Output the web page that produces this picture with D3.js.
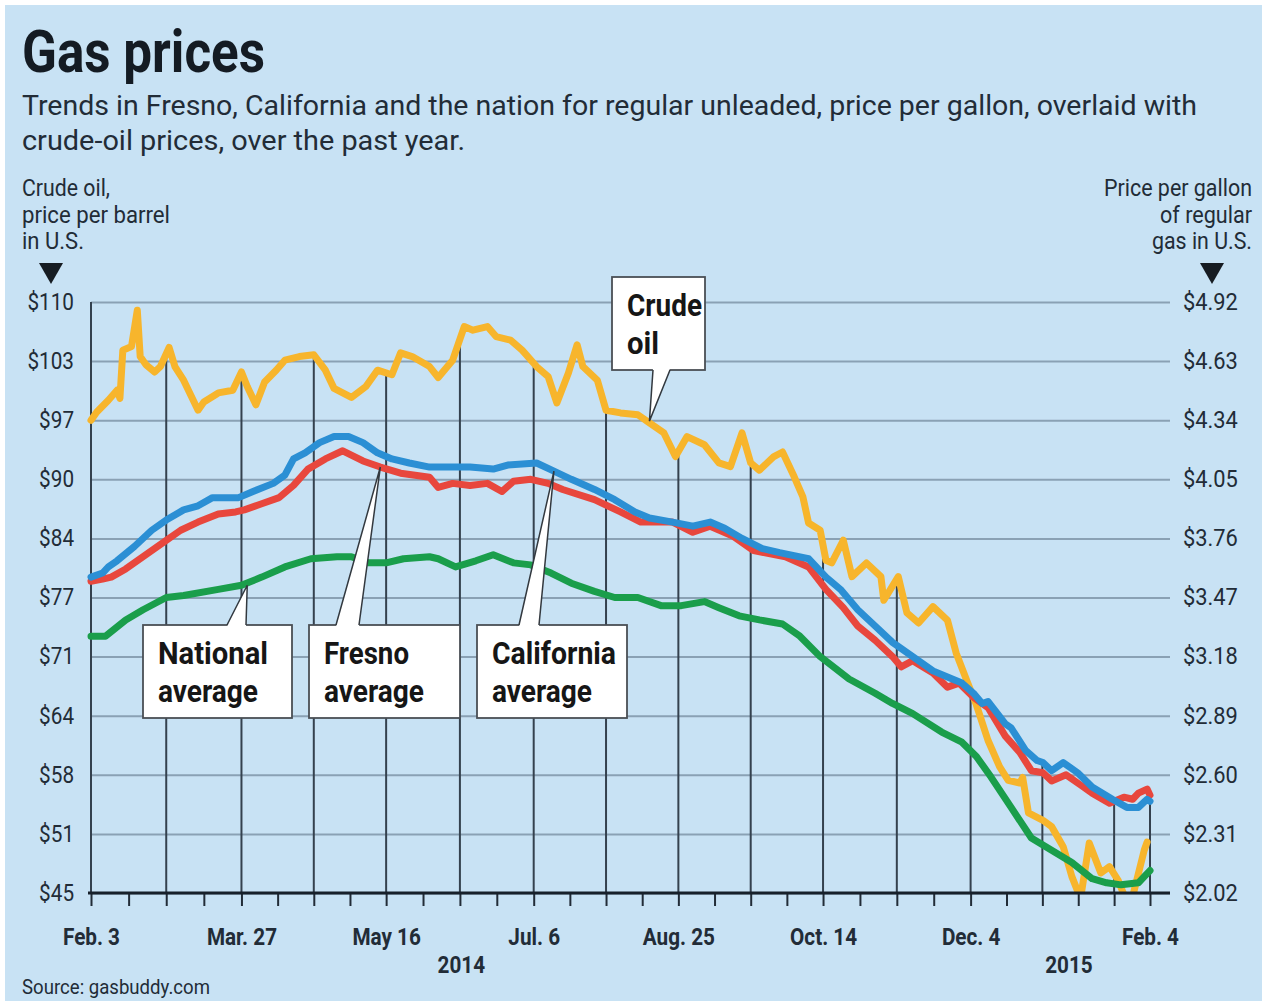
<!DOCTYPE html>
<html lang="en">
<head>
<meta charset="UTF-8">
<title>Gas prices</title>
<script src="https://d3js.org/d3.v7.min.js"></script>
<style>
    body { margin: 0; background: #fff; }
    svg { display: block; }
    text { font-family: Roboto, "Liberation Sans", Arial, sans-serif; fill: #222c37; }
    .title { font-size: 60px; font-weight: 700; fill: #141b23; }
    .subtitle { font-size: 28px; }
    .axis-title { font-size: 23px; }
    .tick text { font-size: 23px; fill: #222c37; }
    .xlab { font-size: 23px; font-weight: 700; }
    .callout text { font-size: 32px; font-weight: 700; fill: #161616; }
    .source { font-size: 21px; }
</style>
</head>
<body>
<svg id="chart"></svg>
<script>
    const crudeOil = [
        ["2014-02-03", 97.0], ["2014-02-05", 97.9], ["2014-02-09", 99.2], ["2014-02-12", 100.3], ["2014-02-13", 99.4],
        ["2014-02-14", 104.7], ["2014-02-17", 105.1], ["2014-02-19", 109.1], ["2014-02-20", 104.0], ["2014-02-22", 103.1],
        ["2014-02-25", 102.3], ["2014-02-27", 102.9], ["2014-03-02", 105.0], ["2014-03-04", 102.9], ["2014-03-07", 101.4],
        ["2014-03-12", 98.1], ["2014-03-14", 99.0], ["2014-03-19", 100.0], ["2014-03-24", 100.3], ["2014-03-27", 102.3],
        ["2014-03-29", 100.7], ["2014-04-01", 98.7], ["2014-04-04", 101.2], ["2014-04-08", 102.5], ["2014-04-11", 103.6],
        ["2014-04-16", 104.0], ["2014-04-21", 104.2], ["2014-04-25", 102.5], ["2014-04-28", 100.5], ["2014-05-04", 99.5],
        ["2014-05-09", 100.7], ["2014-05-13", 102.5], ["2014-05-18", 102.0], ["2014-05-21", 104.4], ["2014-05-25", 104.0],
        ["2014-05-31", 102.9], ["2014-06-03", 101.7], ["2014-06-08", 103.6], ["2014-06-12", 107.3], ["2014-06-15", 106.9],
        ["2014-06-20", 107.3], ["2014-06-23", 106.2], ["2014-06-28", 105.8], ["2014-07-02", 104.7], ["2014-07-07", 102.9],
        ["2014-07-11", 101.8], ["2014-07-14", 98.9], ["2014-07-18", 102.2], ["2014-07-21", 105.3], ["2014-07-23", 102.9],
        ["2014-07-28", 101.4], ["2014-07-31", 98.1], ["2014-08-05", 97.8], ["2014-08-11", 97.6], ["2014-08-15", 96.7],
        ["2014-08-20", 95.6], ["2014-08-24", 93.0], ["2014-08-28", 95.2], ["2014-09-03", 94.3], ["2014-09-08", 92.3],
        ["2014-09-12", 91.9], ["2014-09-16", 95.6], ["2014-09-19", 92.3], ["2014-09-22", 91.5], ["2014-09-27", 93.0],
        ["2014-09-30", 93.5], ["2014-10-04", 90.8], ["2014-10-07", 88.6], ["2014-10-09", 85.7], ["2014-10-13", 84.9],
        ["2014-10-15", 81.6], ["2014-10-17", 81.3], ["2014-10-21", 83.8], ["2014-10-24", 79.8], ["2014-10-29", 81.3],
        ["2014-11-03", 79.8], ["2014-11-04", 77.2], ["2014-11-09", 79.8], ["2014-11-12", 75.8], ["2014-11-16", 74.7],
        ["2014-11-21", 76.5], ["2014-11-26", 75.0], ["2014-11-29", 71.4], ["2014-12-03", 68.1], ["2014-12-06", 65.7],
        ["2014-12-10", 61.8], ["2014-12-14", 58.9], ["2014-12-17", 57.4], ["2014-12-21", 57.1], ["2014-12-22", 57.7],
        ["2014-12-24", 53.8], ["2014-12-29", 53.0], ["2015-01-01", 52.3], ["2015-01-05", 50.1], ["2015-01-08", 46.8],
        ["2015-01-11", 44.4], ["2015-01-14", 50.5], ["2015-01-18", 47.2], ["2015-01-21", 47.9], ["2015-01-24", 46.4],
        ["2015-01-26", 44.8], ["2015-01-29", 44.6], ["2015-02-02", 49.7], ["2015-02-03", 50.6]
    ];

    const californiaAvg = [
        ["2014-02-03", 3.57], ["2014-02-07", 3.59], ["2014-02-09", 3.62], ["2014-02-12", 3.65], ["2014-02-18", 3.72],
        ["2014-02-24", 3.80], ["2014-03-01", 3.85], ["2014-03-07", 3.90], ["2014-03-12", 3.92], ["2014-03-17", 3.96],
        ["2014-03-26", 3.96], ["2014-03-31", 3.99], ["2014-04-07", 4.03], ["2014-04-11", 4.07], ["2014-04-14", 4.15],
        ["2014-04-18", 4.18], ["2014-04-23", 4.23], ["2014-04-28", 4.26], ["2014-05-03", 4.26], ["2014-05-08", 4.23],
        ["2014-05-13", 4.18], ["2014-05-18", 4.15], ["2014-05-24", 4.13], ["2014-05-31", 4.11], ["2014-06-14", 4.11],
        ["2014-06-22", 4.10], ["2014-06-27", 4.12], ["2014-07-07", 4.13], ["2014-07-13", 4.09], ["2014-07-19", 4.05],
        ["2014-07-27", 4.00], ["2014-08-03", 3.95], ["2014-08-10", 3.89], ["2014-08-15", 3.86], ["2014-08-23", 3.84],
        ["2014-08-30", 3.82], ["2014-09-05", 3.84], ["2014-09-10", 3.81], ["2014-09-16", 3.76], ["2014-09-23", 3.71],
        ["2014-09-29", 3.69], ["2014-10-09", 3.66], ["2014-10-15", 3.57], ["2014-10-20", 3.51], ["2014-10-26", 3.41],
        ["2014-11-01", 3.33], ["2014-11-07", 3.25], ["2014-11-14", 3.18], ["2014-11-21", 3.11], ["2014-11-26", 3.08],
        ["2014-12-01", 3.05], ["2014-12-05", 3.00], ["2014-12-08", 2.95], ["2014-12-10", 2.96], ["2014-12-16", 2.85],
        ["2014-12-18", 2.83], ["2014-12-23", 2.72], ["2014-12-27", 2.67], ["2014-12-29", 2.66], ["2015-01-01", 2.62],
        ["2015-01-05", 2.66], ["2015-01-10", 2.61], ["2015-01-15", 2.54], ["2015-01-22", 2.48], ["2015-01-27", 2.44],
        ["2015-01-31", 2.44], ["2015-02-03", 2.48], ["2015-02-04", 2.47]
    ];

    const fresnoAvg = [
        ["2014-02-03", 3.55], ["2014-02-07", 3.56], ["2014-02-10", 3.57], ["2014-02-15", 3.61], ["2014-02-22", 3.68],
        ["2014-03-01", 3.75], ["2014-03-06", 3.80], ["2014-03-12", 3.84], ["2014-03-19", 3.88], ["2014-03-25", 3.89],
        ["2014-03-28", 3.90], ["2014-04-03", 3.93], ["2014-04-09", 3.96], ["2014-04-14", 4.02], ["2014-04-19", 4.10],
        ["2014-04-25", 4.15], ["2014-05-01", 4.19], ["2014-05-08", 4.14], ["2014-05-14", 4.11], ["2014-05-21", 4.08],
        ["2014-05-31", 4.06], ["2014-06-03", 4.01], ["2014-06-08", 4.03], ["2014-06-14", 4.02], ["2014-06-20", 4.03],
        ["2014-06-25", 3.99], ["2014-06-29", 4.04], ["2014-07-05", 4.05], ["2014-07-11", 4.03], ["2014-07-16", 4.00],
        ["2014-07-27", 3.95], ["2014-08-05", 3.89], ["2014-08-12", 3.84], ["2014-08-16", 3.84], ["2014-08-23", 3.84],
        ["2014-08-30", 3.79], ["2014-09-05", 3.82], ["2014-09-13", 3.77], ["2014-09-20", 3.70], ["2014-10-01", 3.67],
        ["2014-10-09", 3.62], ["2014-10-15", 3.51], ["2014-10-21", 3.42], ["2014-10-26", 3.33], ["2014-11-01", 3.26],
        ["2014-11-07", 3.18], ["2014-11-10", 3.13], ["2014-11-14", 3.16], ["2014-11-21", 3.10], ["2014-11-26", 3.03],
        ["2014-11-30", 3.05], ["2014-12-05", 2.98], ["2014-12-10", 2.93], ["2014-12-16", 2.79], ["2014-12-21", 2.71],
        ["2014-12-25", 2.62], ["2014-12-29", 2.61], ["2015-01-01", 2.57], ["2015-01-06", 2.60], ["2015-01-11", 2.55],
        ["2015-01-15", 2.51], ["2015-01-21", 2.46], ["2015-01-26", 2.49], ["2015-01-29", 2.48], ["2015-01-31", 2.51],
        ["2015-02-03", 2.53], ["2015-02-04", 2.50]
    ];

    const nationalAvg = [
        ["2014-02-03", 3.28], ["2014-02-08", 3.28], ["2014-02-15", 3.36], ["2014-02-21", 3.41], ["2014-03-01", 3.47],
        ["2014-03-07", 3.48], ["2014-03-19", 3.51], ["2014-03-27", 3.53], ["2014-04-03", 3.57], ["2014-04-11", 3.62],
        ["2014-04-20", 3.66], ["2014-04-29", 3.67], ["2014-05-04", 3.67], ["2014-05-10", 3.64], ["2014-05-16", 3.64],
        ["2014-05-22", 3.66], ["2014-05-31", 3.67], ["2014-06-03", 3.66], ["2014-06-09", 3.62], ["2014-06-16", 3.65],
        ["2014-06-22", 3.68], ["2014-06-29", 3.64], ["2014-07-05", 3.63], ["2014-07-12", 3.59], ["2014-07-19", 3.54],
        ["2014-07-27", 3.50], ["2014-08-03", 3.47], ["2014-08-11", 3.47], ["2014-08-19", 3.43], ["2014-08-26", 3.43],
        ["2014-09-03", 3.45], ["2014-09-08", 3.42], ["2014-09-15", 3.38], ["2014-09-22", 3.36], ["2014-09-30", 3.34],
        ["2014-10-06", 3.28], ["2014-10-13", 3.18], ["2014-10-23", 3.07], ["2014-11-01", 3.00], ["2014-11-07", 2.95],
        ["2014-11-14", 2.90], ["2014-11-24", 2.81], ["2014-12-01", 2.76], ["2014-12-06", 2.69], ["2014-12-11", 2.59],
        ["2014-12-18", 2.44], ["2014-12-25", 2.29], ["2015-01-01", 2.23], ["2015-01-08", 2.17], ["2015-01-15", 2.09],
        ["2015-01-20", 2.07], ["2015-01-25", 2.06], ["2015-01-31", 2.07], ["2015-02-02", 2.10], ["2015-02-04", 2.13]
    ];

    // axis ticks
    const oilTickValues = [45, 51.5, 58, 64.5, 71, 77.5, 84, 90.5, 97, 103.5, 110];
    const oilTickLabels = ["$45", "$51", "$58", "$64", "$71", "$77", "$84", "$90", "$97", "$103", "$110"];
    const gasTickValues = [2.02, 2.31, 2.60, 2.89, 3.18, 3.47, 3.76, 4.05, 4.34, 4.63, 4.92];
    const gasTickLabels = ["$2.02", "$2.31", "$2.60", "$2.89", "$3.18", "$3.47", "$3.76", "$4.05", "$4.34", "$4.63", "$4.92"];
    const dateTicks = ["2014-02-03", "2014-03-27", "2014-05-16", "2014-07-06", "2014-08-25", "2014-10-14", "2014-12-04", "2015-02-04"];
    const dateLabels = ["Feb. 3", "Mar. 27", "May 16", "Jul. 6", "Aug. 25", "Oct. 14", "Dec. 4", "Feb. 4"];
    const minorSteps = [4, 4, 4, 4, 4, 4, 5];
    const years = [["2014", "2014-06-11"], ["2015", "2015-01-07"]];

    // ---- layout ----
    const width = 1267, height = 1004;
    const plot = { left: 91, right: 1150, top: 302, bottom: 893, gridRight: 1170 };
    const colors = { oil: "#f7b52c", cal: "#2b8fd4", fresno: "#e8473d", nat: "#1a9e4b" };

    const parse = d3.timeParse("%Y-%m-%d");
    const toSeries = arr => arr.map(d => ({ date: parse(d[0]), v: d[1] }));
    const oilS = toSeries(crudeOil), calS = toSeries(californiaAvg),
          freS = toSeries(fresnoAvg), natS = toSeries(nationalAvg);

    const svg = d3.select("#chart").attr("width", width).attr("height", height);

    svg.append("rect").attr("x", 5).attr("y", 5).attr("width", width - 10).attr("height", height - 8)
        .attr("fill", "#c8e2f4");

    const x = d3.scaleTime().domain([parse(dateTicks[0]), parse(dateTicks[dateTicks.length - 1])])
        .range([plot.left, plot.right]);
    const yOil = d3.scaleLinear().domain([45, 110]).range([plot.bottom, plot.top]);
    const yGas = d3.scaleLinear().domain([2.02, 4.92]).range([plot.bottom, plot.top]);

    function fit(sel, w) { sel.attr("textLength", w).attr("lengthAdjust", "spacingAndGlyphs"); }
    function squeeze(sel, f) {
        sel.each(function () {
            const w = this.getComputedTextLength();
            d3.select(this).attr("textLength", w * f).attr("lengthAdjust", "spacingAndGlyphs");
        });
    }

    // ---- headings ----
    svg.append("text").attr("class", "title").attr("x", 22).attr("y", 72).text("Gas prices").call(fit, 243);
    svg.append("text").attr("class", "subtitle").attr("x", 22).attr("y", 115)
        .text("Trends in Fresno, California and the nation for regular unleaded, price per gallon, overlaid with")
        .call(fit, 1175);
    svg.append("text").attr("class", "subtitle").attr("x", 22).attr("y", 150)
        .text("crude-oil prices, over the past year.").call(fit, 443);

    const leftTitle = [["Crude oil,", 88], ["price per barrel", 148], ["in U.S.", 62]];
    leftTitle.forEach((t, i) => {
        svg.append("text").attr("class", "axis-title").attr("x", 22).attr("y", 196 + i * 26.5).text(t[0]).call(fit, t[1]);
    });
    const rightTitle = [["Price per gallon", 148], ["of regular", 92], ["gas in U.S.", 100]];
    rightTitle.forEach((t, i) => {
        svg.append("text").attr("class", "axis-title").attr("x", 1252).attr("y", 196 + i * 26.5)
            .attr("text-anchor", "end").text(t[0]).call(fit, t[1]);
    });
    svg.append("path").attr("d", "M39,263 L63,263 L51,284 Z").attr("fill", "#161c22");
    svg.append("path").attr("d", "M1200,263 L1224,263 L1212,284 Z").attr("fill", "#161c22");

    // ---- horizontal grid ----
    const hGrid = svg.append("g").attr("transform", `translate(${plot.left},0)`)
        .call(d3.axisRight(yOil).tickValues(oilTickValues).tickSize(plot.gridRight - plot.left).tickFormat(""));
    hGrid.select(".domain").remove();
    hGrid.selectAll("line").attr("stroke", "#8aa1b4").attr("stroke-width", 2);

    // ---- y axes ----
    const leftAxis = svg.append("g").attr("transform", `translate(${plot.left},0)`)
        .call(d3.axisLeft(yOil).tickValues(oilTickValues).tickSize(0).tickPadding(17)
            .tickFormat(d => oilTickLabels[oilTickValues.indexOf(d)]));
    leftAxis.select(".domain").remove();
    leftAxis.selectAll("text").call(squeeze, 0.9);

    const rightAxis = svg.append("g").attr("transform", `translate(${plot.right},0)`)
        .call(d3.axisRight(yGas).tickValues(gasTickValues).tickSize(0).tickPadding(33)
            .tickFormat(d => gasTickLabels[gasTickValues.indexOf(d)]));
    rightAxis.select(".domain").remove();
    rightAxis.selectAll("text").call(squeeze, 0.95);

    // ---- x ticks ----
    const ticks = [];
    dateTicks.slice(0, -1).forEach((ds, i) => {
        const a = parse(ds), b = parse(dateTicks[i + 1]), n = minorSteps[i];
        for (let k = 0; k < n; k++) {
            ticks.push({ date: new Date(+a + (b - a) * k / n), label: k === 0 ? dateLabels[i] : "" });
        }
    });
    ticks.push({ date: parse(dateTicks[dateTicks.length - 1]), label: dateLabels[dateLabels.length - 1] });
    ticks.forEach((t, i) => { t.major = i % 2 === 0 || i === ticks.length - 1; });

    const bisect = d3.bisector(d => d.date).left;
    function valueAt(s, date) {
        const i = bisect(s, date);
        if (i <= 0) return s[0].v;
        if (i >= s.length) return s[s.length - 1].v;
        const a = s[i - 1], b = s[i];
        return a.v + (b.v - a.v) * (date - a.date) / (b.date - a.date);
    }
    function topAt(date) {
        return Math.min(yOil(valueAt(oilS, date)), yGas(valueAt(calS, date)),
            yGas(valueAt(freS, date)), yGas(valueAt(natS, date)));
    }

    // vertical drop lines
    svg.append("g").selectAll("line").data(ticks.filter(t => t.major)).join("line")
        .attr("x1", d => x(d.date)).attr("x2", d => x(d.date))
        .attr("y1", (d, i) => i === 0 ? plot.top : topAt(d.date))
        .attr("y2", plot.bottom)
        .attr("stroke", "#34414e").attr("stroke-width", 2);

    const xAxis = svg.append("g").attr("transform", `translate(0,${plot.bottom})`)
        .call(d3.axisBottom(x).tickValues(ticks.map(t => t.date)).tickSize(13)
            .tickFormat((d, i) => ticks[i].label));
    xAxis.select(".domain").remove();
    xAxis.selectAll("line").attr("stroke", "#222c37").attr("stroke-width", 2);
    xAxis.selectAll("text").attr("class", "xlab").attr("y", 52).attr("dy", 0).call(squeeze, 0.9);

    svg.append("g").selectAll("text").data(years).join("text")
        .attr("class", "xlab").attr("text-anchor", "middle")
        .attr("x", d => x(parse(d[1]))).attr("y", 973).text(d => d[0]).call(squeeze, 0.9);

    // ---- lines ----
    svg.append("clipPath").attr("id", "plotclip").append("rect")
        .attr("x", plot.left - 10).attr("y", plot.top - 10)
        .attr("width", plot.right - plot.left + 20).attr("height", plot.bottom - plot.top + 10);

    const lineOil = d3.line().x(d => x(d.date)).y(d => yOil(d.v));
    const lineGas = d3.line().x(d => x(d.date)).y(d => yGas(d.v));
    const lines = svg.append("g").attr("clip-path", "url(#plotclip)")
        .attr("fill", "none").attr("stroke-width", 7).attr("stroke-linejoin", "round").attr("stroke-linecap", "round");
    lines.append("path").attr("d", lineOil(oilS)).attr("stroke", colors.oil);
    lines.append("path").attr("d", lineGas(natS)).attr("stroke", colors.nat);
    lines.append("path").attr("d", lineGas(freS)).attr("stroke", colors.fresno);
    lines.append("path").attr("d", lineGas(calS)).attr("stroke", colors.cal);

    // baseline
    svg.append("line").attr("x1", plot.left - 3).attr("x2", plot.gridRight)
        .attr("y1", plot.bottom).attr("y2", plot.bottom).attr("stroke", "#17202a").attr("stroke-width", 3);

    // ---- callouts ----
    const callouts = [
        { text: [["National", 110], ["average", 100]], box: [143, 625, 149, 93], side: "top", base: [84, 103], tip: ["2014-03-29", 3.53], y: yGas },
        { text: [["Fresno", 85], ["average", 100]], box: [309, 625, 151, 93], side: "top", base: [27, 50], tip: ["2014-05-14", 4.11], y: yGas },
        { text: [["California", 124], ["average", 100]], box: [477, 625, 150, 93], side: "top", base: [42, 62], tip: ["2014-07-13", 4.09], y: yGas },
        { text: [["Crude", 75], ["oil", 32]], box: [612, 277, 93, 93], side: "bottom", base: [41, 58], tip: ["2014-08-15", 96.9], y: yOil }
    ];

    const cg = svg.append("g").attr("class", "callout");
    callouts.forEach(c => {
        const [bx, by, bw, bh] = c.box;
        const tx = x(parse(c.tip[0])), ty = c.y(c.tip[1]);
        const edge = c.side === "top" ? by : by + bh;
        const inset = c.side === "top" ? 1.5 : -1.5;
        cg.append("rect").attr("x", bx).attr("y", by).attr("width", bw).attr("height", bh)
            .attr("fill", "#fff").attr("stroke", "#4a4f55").attr("stroke-width", 1.8);
        const p0 = [bx + c.base[0], edge], p1 = [bx + c.base[1], edge];
        cg.append("path")
            .attr("d", `M${p0[0]},${edge + inset}L${tx},${ty}L${p1[0]},${edge + inset}Z`)
            .attr("fill", "#fff");
        cg.append("path")
            .attr("d", `M${p0[0]},${edge}L${tx},${ty}L${p1[0]},${edge}`)
            .attr("fill", "none").attr("stroke", "#33393f").attr("stroke-width", 1.5);
        c.text.forEach((t, i) => {
            cg.append("text").attr("x", bx + 15).attr("y", by + 39 + i * 38).text(t[0]).call(fit, t[1]);
        });
    });

    svg.append("text").attr("class", "source").attr("x", 22).attr("y", 994)
        .text("Source: gasbuddy.com").call(fit, 188);
</script>
</body>
</html>
